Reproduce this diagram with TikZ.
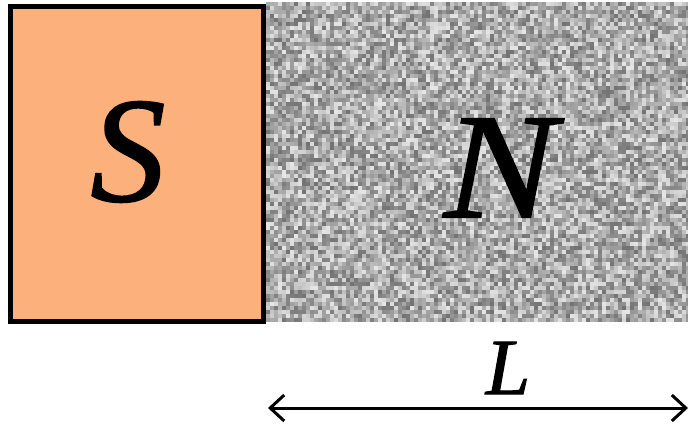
\documentclass[tikz,border=0pt]{standalone}
\usepackage{fontspec}
\setmainfont{Liberation Serif}
\newfontfamily\letterfont{Liberation Serif}[FakeBold=1.2]
\usepackage{xcolor}
\usetikzlibrary{arrows.meta, positioning}
\definecolor{sboxcolor}{RGB}{252,176,124}

\begin{document}
\begin{tikzpicture}[
    x=0.5pt, y=-0.5pt,
    sbox/.style={rectangle, draw=black, line width=2.5pt, fill=sboxcolor, inner sep=0pt, minimum width=126.5pt, minimum height=157.5pt},
    big/.style={font=\fontsize{75}{78}\letterfont\itshape},
    lab/.style={font=\fontsize{40}{44}\letterfont\itshape},
    arrow/.style={line width=1.5pt, {Straight Barb[length=7pt,width=13pt,line width=1.5pt]}-{Straight Barb[length=7pt,width=13pt,line width=1.5pt]}}
]
\useasboundingbox (0,0) rectangle (688,426);

% noisy medium
\begin{scope}
\clip (266,2) rectangle (688,321);
\fill[black!30] (266,2) rectangle (688,321);
\pgfmathsetseed{7}
\foreach \i in {0,...,105} {
  \foreach \j in {0,...,79} {
    \pgfmathrandominteger{\g}{10}{55}
    \fill[black!\g] (266+4*\i,2+4*\j) rectangle ++(4,4);
  }
}
\end{scope}
\node (noise) [inner sep=0pt, minimum width=211pt, minimum height=159.5pt] at (477,161.5) {};

\node (sys) [sbox] at (137,164) {};
\node (slab) [big] at (128,152) {S};
\node (nlab) [big, xscale=1.12, transform shape] at (500,168) {N};

\coordinate (lend) at (268,408);
\coordinate (rend) at (688,408);
\node (len) [lab] at (508,368) {L};
\draw [arrow] (lend) -- (rend);
\end{tikzpicture}
\end{document}
